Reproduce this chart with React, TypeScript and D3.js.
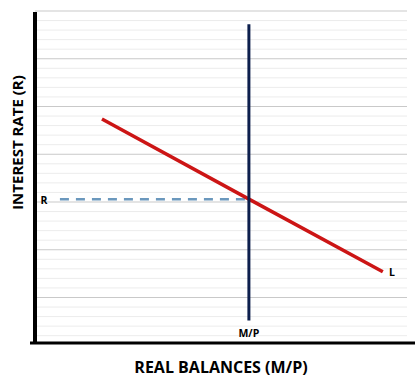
import React from "react";
import * as d3 from "d3";

const gridValues = d3.range(0, 35);
const demandX = [18, 57.5, 93.5];
const demandY = [22.7, 14.3, 6.7];
const supplyX = 57.5;
const supplyY = [1.6, 32.6];
const rateX = [6.7, 57.5];
const rateY = 14.3;
const xTitle = "REAL BALANCES (M/P)";
const yTitle = "INTEREST RATE (R)";

export default function App() {
  const W = 420, H = 382;
  const x = d3.scaleLinear().domain([0, 100]).range([35, 407]);
  const y = d3.scaleLinear().domain([0, 34]).range([335.7, 11]);
  const line = d3.line<[number, number]>().x(d => x(d[0])).y(d => y(d[1]));
  const demand: [number, number][] = demandX.map((v, i) => [v, demandY[i]]);
  const font = "'Open Sans', 'Liberation Sans', sans-serif";
  return (
    <svg width={W} height={H} style={{ position: "absolute", left: 0, top: 0, background: "#fff" }}>
      {gridValues.map(v => (
        <line key={v} x1={x(0)} x2={x(100)} y1={y(v)} y2={y(v)}
          stroke={v % 5 === 4 ? "#c9c9c9" : "#ececec"} strokeWidth={1} />
      ))}
      <line x1={35} x2={35} y1={12} y2={344} stroke="#000" strokeWidth={4} />
      <line x1={30} x2={415} y1={343} y2={343} stroke="#000" strokeWidth={3} />
      <path d={line([[rateX[0], rateY], [rateX[1], rateY]]) || ""} stroke="#6b98bd" strokeWidth={2.5}
        strokeDasharray="9 7" fill="none" />
      <path d={line(demand) || ""} stroke="#cc1515" strokeWidth={3.5} fill="none" />
      <path d={line([[supplyX, supplyY[0]], [supplyX, supplyY[1]]]) || ""} stroke="#0d1f4d" strokeWidth={3} fill="none" />
      <text x={44} y={204} fontFamily={font} fontWeight="bold" fontSize={10.5} textAnchor="middle">R</text>
      <text x={392} y={276} fontFamily={font} fontWeight="bold" fontSize={10.5} textAnchor="middle">L</text>
      <text x={x(supplyX)} y={337} fontFamily={font} fontWeight="bold" fontSize={10.5} textAnchor="middle">M/P</text>
      <text x={221} y={373} fontFamily={font} fontWeight="bold" fontSize={16} textAnchor="middle">{xTitle}</text>
      <text transform="translate(23,142.5) rotate(-90)" fontFamily={font} fontWeight="bold" fontSize={15} textAnchor="middle">{yTitle}</text>
    </svg>
  );
}
